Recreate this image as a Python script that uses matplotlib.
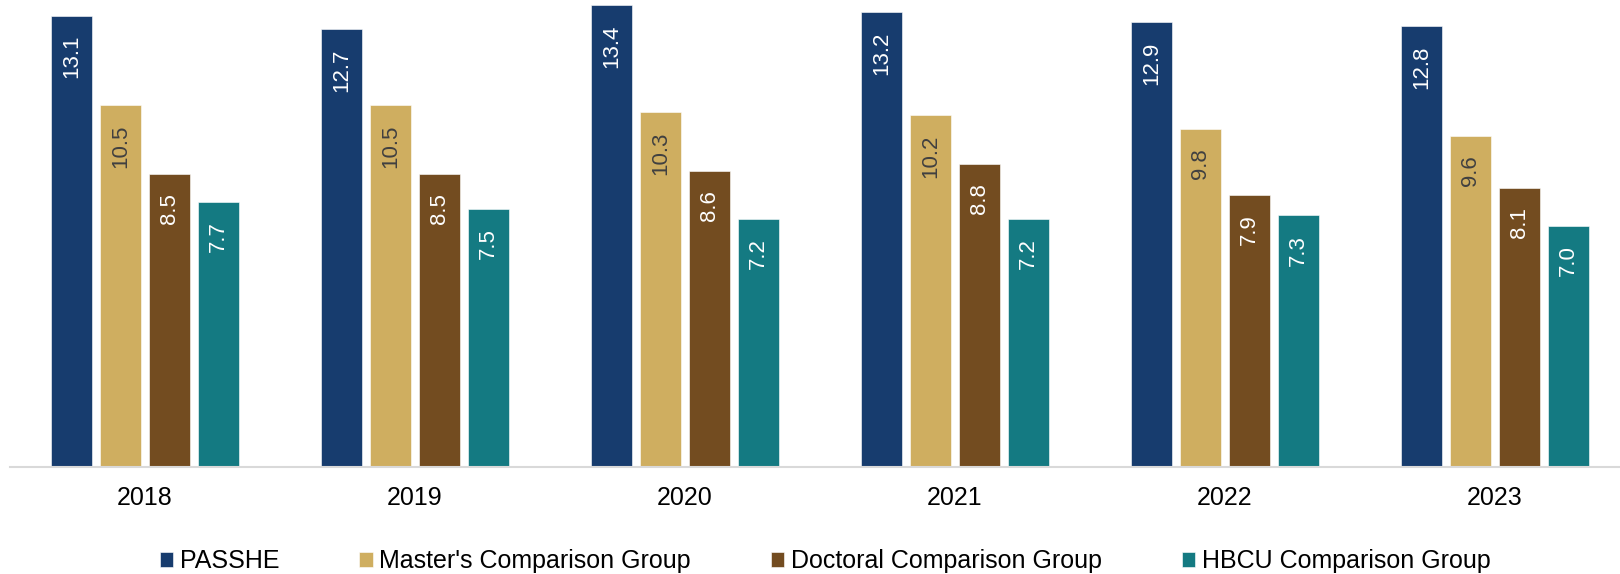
import numpy as np
import matplotlib.pyplot as plt

years = ["2018", "2019", "2020", "2021", "2022", "2023"]
groups = ["PASSHE", "Master's Comparison Group", "Doctoral Comparison Group", "HBCU Comparison Group"]
passhe = [13.1, 12.7, 13.4, 13.2, 12.9, 12.8]
masters = [10.5, 10.5, 10.3, 10.2, 9.8, 9.6]
doctoral = [8.5, 8.5, 8.6, 8.8, 7.9, 8.1]
hbcu = [7.7, 7.5, 7.2, 7.2, 7.3, 7.0]

colors = ["#173C6E", "#CFAE60", "#734C20", "#147A82"]
label_colors = ["white", "#404040", "white", "white"]

plt.rcParams["font.family"] = ["Liberation Sans", "DejaVu Sans"]

fig = plt.figure(figsize=(16.2, 5.74), dpi=100)
ax = fig.add_axes([10 / 1620, 107 / 574, 1.0, 467 / 574])

x = np.arange(len(years))
w = 41 / 270
step = 49 / 270
for i, (name, vals) in enumerate(zip(groups, [passhe, masters, doctoral, hbcu])):
    pos = x + (i - 1.5) * step
    bars = ax.bar(pos, vals, width=w, color=colors[i], label=name,
                  edgecolor="white", linewidth=0.4)
    for b, v in zip(bars, vals):
        ax.annotate(f"{v:.1f}", (b.get_x() + b.get_width() / 2, v),
                    xytext=(0, -14), textcoords="offset points",
                    rotation=90, ha="center", va="top",
                    fontsize=16, color=label_colors[i])

ax.set_xlim(-0.5, 5.5)
ax.set_ylim(0, 13.55)
ax.set_xticks(x)
ax.set_xticklabels(years, fontsize=18)
ax.tick_params(axis="x", length=0, pad=14)
ax.set_yticks([])
for s in ["top", "right", "left"]:
    ax.spines[s].set_visible(False)
ax.spines["bottom"].set_color("#D9D9D9")
ax.spines["bottom"].set_linewidth(1.5)

fig.legend(loc="center", bbox_to_anchor=(825 / 1620, 13 / 574), ncol=4,
           frameon=False, fontsize=18, handlelength=0.55, handleheight=0.55,
           handletextpad=0.25, columnspacing=3.2)

fig.savefig("out.png", dpi=100)
